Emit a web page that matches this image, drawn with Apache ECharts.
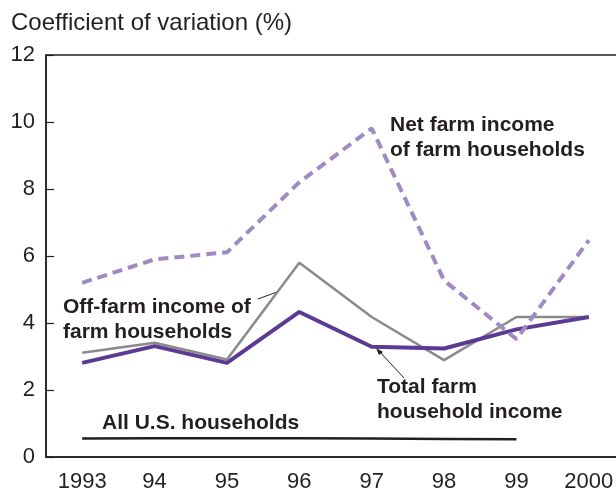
<!DOCTYPE html>
<html>
<head>
<meta charset="utf-8">
<script src="https://cdn.jsdelivr.net/npm/echarts@6/dist/echarts.min.js"></script>
<style>html,body{margin:0;padding:0;background:#fff}#c{width:616px;height:491px}</style>
</head>
<body>
<div id="c"></div>
<script>
const years = ['1993','94','95','96','97','98','99','2000'];
const netFarm = [5.2, 5.9, 6.11, 8.2, 9.81, 5.27, 3.52, 6.47];
const offFarm = [3.11, 3.41, 2.91, 5.8, 4.18, 2.89, 4.18, 4.18];
const totalFarm = [2.81, 3.31, 2.81, 4.33, 3.29, 3.24, 3.81, 4.18];
const allUS = [0.55, 0.56, 0.56, 0.56, 0.55, 0.54, 0.53, null];
const yTicks = { min: 0, max: 12, interval: 2 };
const titleText = 'Coefficient of variation (%)';

const ink = '#231f20';
const font = 'Liberation Sans, Arial, Helvetica, sans-serif';
const chart = echarts.init(document.getElementById('c'), null, { renderer: 'canvas' });
const boldText = (t, x, y) => ({
  type: 'text', x: x, y: y, silent: true,
  style: { text: t, fill: ink, font: 'bold 21px ' + font, verticalAlign: 'middle', align: 'left' }
});
chart.setOption({
  animation: false,
  backgroundColor: '#fff',
  grid: { left: 46, right: -9, top: 55, bottom: 34, outerBoundsMode: 'none', containLabel: false, show: true, borderColor: ink, borderWidth: 1.5, backgroundColor: 'transparent' },
  title: { text: titleText, left: 6, top: 6, textStyle: { fontFamily: font, fontSize: 24, fontWeight: 'normal', color: ink } },
  xAxis: {
    type: 'category', data: years, boundaryGap: true,
    axisLine: { lineStyle: { color: ink, width: 1.5 } },
    axisTick: { alignWithLabel: true, inside: true, length: 9, lineStyle: { color: ink, width: 1.2 } },
    axisLabel: { color: ink, fontFamily: font, fontSize: 22, margin: 14 },
    splitLine: { show: false }
  },
  yAxis: {
    type: 'value', min: yTicks.min, max: yTicks.max, interval: yTicks.interval,
    axisLine: { show: true, lineStyle: { color: ink, width: 1.5 } },
    axisTick: { show: true, inside: true, length: 8, lineStyle: { color: ink, width: 1.2 } },
    axisLabel: { color: ink, fontFamily: font, fontSize: 22, margin: 11 },
    splitLine: { show: false }
  },
  series: [
    { name: 'All U.S. households', type: 'line', data: allUS, symbol: 'none', lineStyle: { color: ink, width: 2.5 }, z: 2 },
    { name: 'Off-farm income of farm households', type: 'line', data: offFarm, symbol: 'none', lineStyle: { color: '#8a8a8a', width: 2.5 }, z: 3 },
    { name: 'Total farm household income', type: 'line', data: totalFarm, symbol: 'none', lineStyle: { color: '#5b3a93', width: 4 }, z: 4 },
    { name: 'Net farm income of farm households', type: 'line', data: netFarm, symbol: 'none', lineStyle: { color: '#9f8ac4', width: 4, type: [10, 6] }, z: 5 }
  ],
  graphic: [
    boldText('Net farm income', 390, 125),
    boldText('of farm households', 390, 150),
    boldText('Off-farm income of', 63, 307),
    boldText('farm households', 63, 332),
    boldText('Total farm', 377, 387),
    boldText('household income', 377, 412),
    boldText('All U.S. households', 102, 423),
    { type: 'line', silent: true, shape: { x1: 258, y1: 299, x2: 277, y2: 292 }, style: { stroke: ink, lineWidth: 1 } },
    { type: 'line', silent: true, shape: { x1: 404, y1: 378, x2: 379, y2: 351 }, style: { stroke: ink, lineWidth: 1 } },
    { type: 'polygon', silent: true, shape: { points: [[376, 348], [383, 352], [379, 355]] }, style: { fill: ink } }
  ]
});
</script>
</body>
</html>
